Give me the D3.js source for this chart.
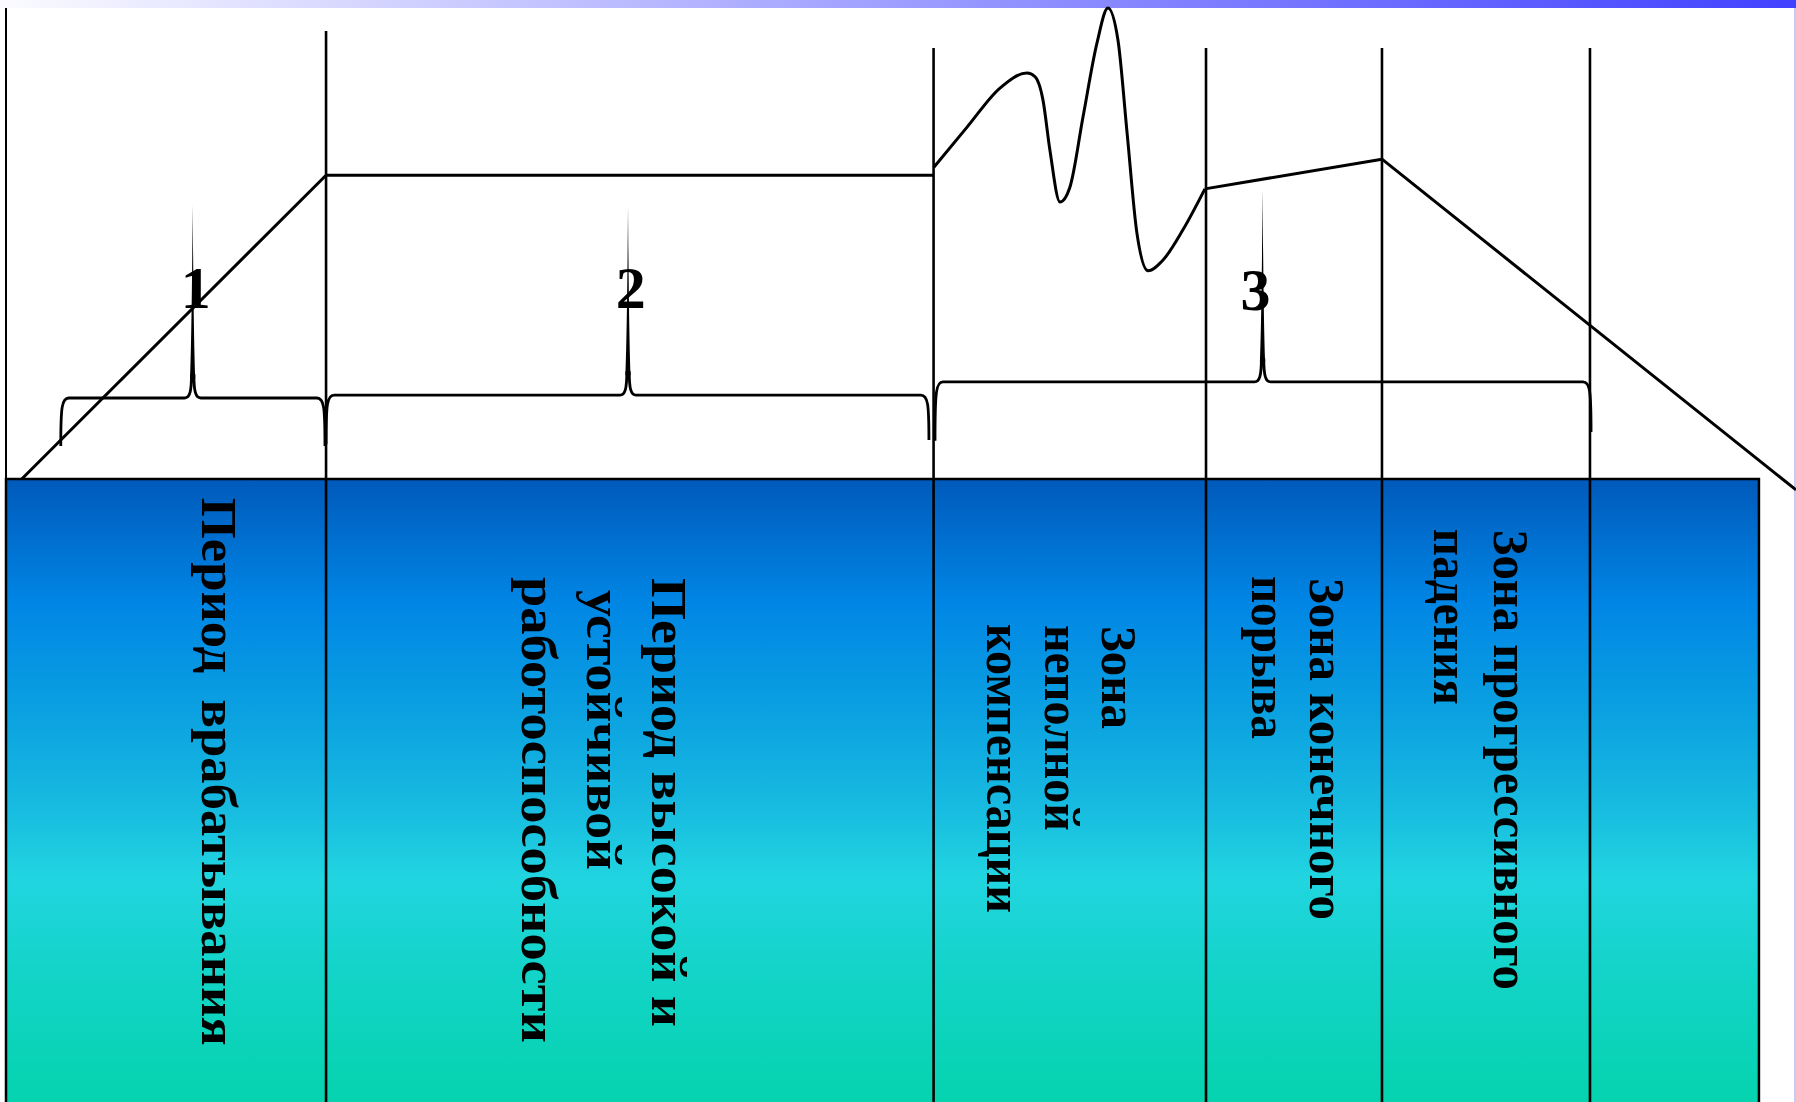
<!DOCTYPE html>
<html>
<head>
<meta charset="utf-8">
<script src="https://cdn.jsdelivr.net/npm/d3@7"></script>
<style>
  html, body { margin: 0; padding: 0; background: #ffffff; overflow: hidden; }
  svg { display: block; }
  .lbl { font-family: "Liberation Serif", "Times New Roman", serif; font-weight: bold; white-space: pre; }
</style>
</head>
<body>
<script>
// ---------------- DATA (time units 0..100, performance units 0..100) ----------------
const rampPoints = [[0.88, 0], [17.88, 64.5], [51.82, 64.5]];
const wavePoints = [
  [51.84, 66.2], [53.69, 74.7], [55.53, 83.0], [57.04, 86.2], [57.49, 85.4], [57.93, 80.5],
  [58.32, 69.8], [58.88, 58.8], [59.44, 62.0], [60.17, 76.9], [60.95, 92.6], [61.56, 100],
  [62.12, 93.2], [62.63, 73.5], [63.18, 52.2], [63.80, 44.2], [64.64, 46.5], [65.75, 52.9],
  [66.98, 61.6]
];
const tailPoints = [[66.98, 61.6], [76.87, 67.9], [100, -2.3]];

const boundaryTimes = [17.88, 51.82, 67.04, 76.87, 88.49];
const boundaryTops  = [95.1, 91.5, 91.5, 91.5, 91.5];
const boxTimes = [0, 97.93];

const braceFrom  = [3.06, 17.88, 51.9];
const braceTo    = [17.82, 51.56, 88.55];
const braceLevel = [17.2, 17.8, 20.6];
const braceEndL  = [7.0, 7.4, 8.1];
const braceEndR  = [7.0, 8.3, 10.0];
const braceMid   = [10.43, 34.75, 70.2];
const braceTip   = [58.2, 58.0, 61.4];
const braceLabels = ["1", "2", "3"];
const braceLabelTimes = [10.6, 34.9, 69.8];
const braceLabelLevel = [36.3, 36.3, 35.9];

const phaseLabels = [
  ["Период  врабатывания"],
  ["Период высокой и", "устойчивой", "работоспособности"],
  ["Зона", "неполной", "компенсации"],
  ["Зона конечного", "порыва"],
  ["Зона прогрессивного", "падения"]
];
const phaseLabelTimes  = [10.95, 36.09, 61.23, 72.85, 83.13];
const phaseLabelStarts = [-4.0, -21.0, -31.2, -21.0, -10.8];

// ---------------- LAYOUT / STYLE ----------------
const W = 1796, H = 1102;
const lineStep = [65, 65, 57.5, 58, 60];
const lineShift = [[0], [0, 12, -1], [0, -1, -2], [0, -2], [0, -1]];
const lineLength = [[548], [449, 280, 466], [103, 206, 289], [342, 163], [460, 176]];
const labelFont = 50;

const x = d3.scaleLinear().domain([0, 100]).range([6, 1796]);
const y = d3.scaleLinear().domain([0, 100]).range([479, 8]);

const svg = d3.select("body").append("svg").attr("width", W).attr("height", H);
const defs = svg.append("defs");

const topGrad = defs.append("linearGradient").attr("id", "topGrad")
  .attr("x1", "0").attr("x2", "1").attr("y1", "0").attr("y2", "0");
topGrad.append("stop").attr("offset", "0").attr("stop-color", "#fbfbff");
topGrad.append("stop").attr("offset", "1").attr("stop-color", "#4141ff");

const boxGrad = defs.append("linearGradient").attr("id", "boxGrad")
  .attr("x1", "0").attr("x2", "0").attr("y1", "0").attr("y2", "1");
[[0, "#005abb"], [0.2, "#0086e5"], [0.36, "#0a9fe1"], [0.52, "#17bae0"],
 [0.64, "#21d5e0"], [0.79, "#13d4c8"], [1, "#05d3ae"]].forEach(s =>
  boxGrad.append("stop").attr("offset", s[0]).attr("stop-color", s[1]));

// top gradient band
svg.append("rect").attr("x", 0).attr("y", 0).attr("width", W).attr("height", 8)
  .attr("fill", "url(#topGrad)");

// frame lines
svg.append("line").attr("x1", x(0)).attr("x2", x(0)).attr("y1", 8).attr("y2", y(0))
  .attr("stroke", "#000").attr("stroke-width", 2);
svg.append("line").attr("x1", W - 1).attr("x2", W - 1).attr("y1", 8).attr("y2", H)
  .attr("stroke", "#c9c9f2").attr("stroke-width", 2);

// gradient box
svg.append("rect")
  .attr("x", x(boxTimes[0])).attr("y", y(0))
  .attr("width", x(boxTimes[1]) - x(boxTimes[0])).attr("height", H - y(0) + 2)
  .attr("fill", "url(#boxGrad)").attr("stroke", "#000").attr("stroke-width", 2.5);

// phase boundary lines
svg.append("g").selectAll("line").data(boundaryTimes).join("line")
  .attr("x1", d => x(d)).attr("x2", d => x(d))
  .attr("y1", (d, i) => y(boundaryTops[i])).attr("y2", H)
  .attr("stroke", "#000").attr("stroke-width", 2.6);

// performance curve
const lin = d3.line().x(d => x(d[0])).y(d => y(d[1]));
const smooth = d3.line().x(d => x(d[0])).y(d => y(d[1])).curve(d3.curveMonotoneX);
const curveG = svg.append("g").attr("fill", "none").attr("stroke", "#000")
  .attr("stroke-width", 3).attr("stroke-linejoin", "round");
curveG.append("path").attr("d", lin(rampPoints));
curveG.append("path").attr("d", smooth(wavePoints));
curveG.append("path").attr("d", lin(tailPoints));

// brace number labels
svg.append("g").selectAll("text").data(braceLabels).join("text")
  .attr("class", "lbl")
  .attr("x", (d, i) => x(braceLabelTimes[i]))
  .attr("y", (d, i) => y(braceLabelLevel[i]))
  .attr("text-anchor", "middle")
  .attr("font-size", 60)
  .attr("fill", "#000")
  .text(d => d);

// braces
const braceG = svg.append("g");
braceFrom.forEach((f, i) => {
  const x0 = x(f), x1 = x(braceTo[i]), yh = y(braceLevel[i]);
  const yl = y(braceEndL[i]), yr = y(braceEndR[i]), xm = x(braceMid[i]), yt = y(braceTip[i]);
  const d =
    `M${x0},${yl} C${x0},${yh + 9} ${x0 + 1},${yh} ${x0 + 8},${yh} L${xm - 8},${yh} ` +
    `C${xm - 3},${yh} ${xm - 1.2},${yh - 6} ${xm - 1.2},${yh - 24} ` +
    `M${xm + 1.2},${yh - 24} C${xm + 1.2},${yh - 6} ${xm + 3},${yh} ${xm + 8},${yh} ` +
    `L${x1 - 8},${yh} C${x1 - 1},${yh} ${x1},${yh + 9} ${x1},${yr}`;
  braceG.append("path").attr("d", d).attr("fill", "none")
    .attr("stroke", "#000").attr("stroke-width", 2.8);
  const s =
    `M${xm - 2.6},${yh - 20} C${xm - 1},${yh - 60} ${xm - 0.3},${yt + 40} ${xm},${yt} ` +
    `C${xm + 0.3},${yt + 40} ${xm + 1},${yh - 60} ${xm + 2.6},${yh - 20} Z`;
  braceG.append("path").attr("d", s).attr("fill", "#000");
});

// rotated phase labels
const labG = svg.append("g");
phaseLabels.forEach((lines, i) => {
  lines.forEach((t, j) => {
    const bx = x(phaseLabelTimes[i]) - j * lineStep[i];
    const by = y(phaseLabelStarts[i]) + lineShift[i][j];
    labG.append("text").attr("class", "lbl")
      .attr("transform", `translate(${bx},${by}) rotate(90)`)
      .attr("font-size", labelFont)
      .attr("textLength", lineLength[i][j])
      .attr("lengthAdjust", "spacingAndGlyphs")
      .attr("fill", "#000")
      .text(t);
  });
});
</script>
</body>
</html>
